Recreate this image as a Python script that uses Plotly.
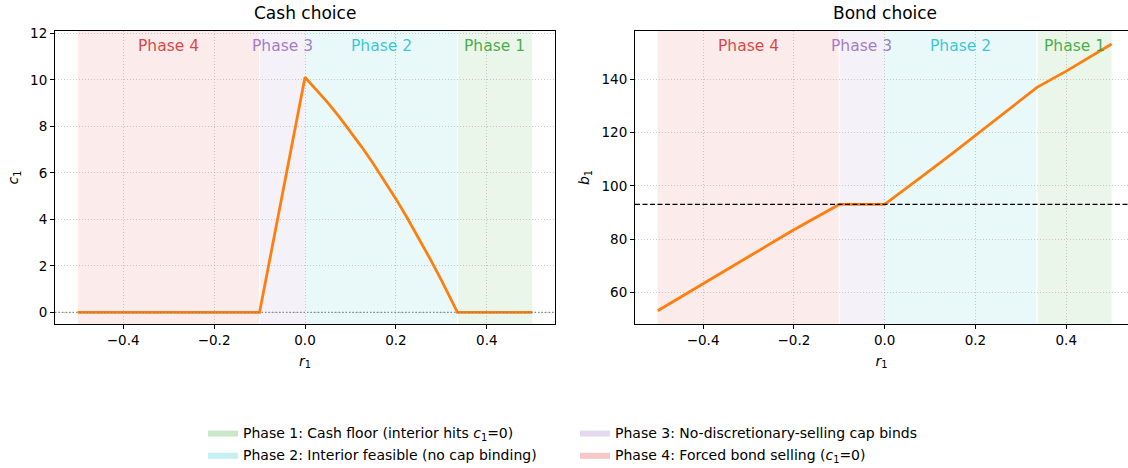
import plotly.graph_objects as go
from plotly.subplots import make_subplots

# ---------------- data ----------------
phase_names = ["Phase 1", "Phase 2", "Phase 3", "Phase 4"]
phase_legend = [
    "Phase 1: Cash floor (interior hits <i>c</i><sub>1</sub>=0)",
    "Phase 2: Interior feasible (no cap binding)",
    "Phase 3: No-discretionary-selling cap binds",
    "Phase 4: Forced bond selling (<i>c</i><sub>1</sub>=0)",
]
phase_rgb = ["44,160,44", "23,190,207", "148,103,189", "214,39,40"]
phase_lo = [0.3355, 0.0, -0.1, -0.5]
phase_hi = [0.5, 0.3355, 0.0, -0.1]

r_cash = [-0.5, -0.3, -0.1, 0.0, 0.025, 0.05, 0.075, 0.1, 0.125, 0.15, 0.175,
          0.2, 0.225, 0.25, 0.275, 0.3, 0.3355, 0.4, 0.5]
c_vals = [0.0, 0.0, 0.0, 10.11, 9.58, 9.02, 8.42, 7.78, 7.11, 6.40, 5.66,
          4.88, 4.06, 3.20, 2.31, 1.39, 0.0, 0.0, 0.0]

r_bond = [-0.5, -0.4, -0.3, -0.2, -0.1, 0.0, 0.05, 0.1, 0.15, 0.2, 0.25,
          0.3, 0.3355, 0.4, 0.5]
b_vals = [53.0, 63.0, 73.3, 83.5, 93.0, 93.0, 99.3, 105.8, 112.3, 119.0, 125.7,
          132.4, 137.1, 143.2, 153.4]
bond_cap = 93.0

x_ticks = [-0.4, -0.2, 0.0, 0.2, 0.4]
x_ticklabels = ["\u22120.4", "\u22120.2", "0.0", "0.2", "0.4"]
c_ticks = [0, 2, 4, 6, 8, 10, 12]
b_ticks = [60, 80, 100, 120, 140]

# ---------------- figure ----------------
W, H = 1128, 468
ML, MR, MT, MB = 55, 0, 31, 144
PW = W - ML - MR
PH = H - MT - MB
FONT = "DejaVu Sans"

fig = make_subplots(rows=1, cols=2, horizontal_spacing=0.0)
fig.update_xaxes(domain=[0, 500 / PW], row=1, col=1)
fig.update_xaxes(domain=[580 / PW, 1.0], row=1, col=2)

fig.add_trace(go.Scatter(x=r_cash, y=c_vals, mode="lines",
                         line=dict(color="#ff7f0e", width=2.8), showlegend=False), row=1, col=1)
fig.add_trace(go.Scatter(x=r_bond, y=b_vals, mode="lines",
                         line=dict(color="#ff7f0e", width=2.8), showlegend=False), row=1, col=2)

for col in (1, 2):
    xr = "x" if col == 1 else "x2"
    yd = "y domain" if col == 1 else "y2 domain"
    for name, rgb, lo, hi in zip(phase_names, phase_rgb, phase_lo, phase_hi):
        fig.add_shape(type="rect", x0=lo, x1=hi, y0=0, y1=1, xref=xr, yref=yd,
                      fillcolor=f"rgba({rgb},0.095)", line=dict(width=0), layer="below")
        fig.add_annotation(x=(lo + hi) / 2, y=0.985, xref=xr, yref=yd,
                           text=name, showarrow=False, yanchor="top",
                           font=dict(family=FONT, size=15.5, color=f"rgba({rgb},0.85)"))
    # thin white separators at the phase edges
    for edge in (-0.1, 0.3355):
        fig.add_shape(type="line", x0=edge, x1=edge, y0=0, y1=1, xref=xr, yref=yd,
                      line=dict(color="white", width=1.2), layer="below")

# reference lines
fig.add_shape(type="line", x0=0, x1=1, y0=0, y1=0, xref="x domain", yref="y",
              line=dict(color="rgba(128,128,128,0.9)", width=1.2, dash="1.5px,2px"), layer="above")
fig.add_shape(type="line", x0=0, x1=1, y0=bond_cap, y1=bond_cap, xref="x2 domain", yref="y2",
              line=dict(color="black", width=1.2, dash="5px,2.5px"), layer="above")

# legend entries (two columns)
for i, (lab, rgb) in enumerate(zip(phase_legend, phase_rgb)):
    fig.add_trace(go.Scatter(x=[None], y=[None], mode="lines", fill="toself",
                             fillcolor=f"rgba({rgb},0.25)", line=dict(width=0, color=f"rgba({rgb},0.25)"),
                             name=lab, showlegend=True, legendgroup=f"g{i}",
                             legend="legend" if i < 2 else "legend2"), row=1, col=1)

axis_common = dict(showline=True, linecolor="black", linewidth=1, ticks="outside",
                   ticklen=4, tickwidth=1, tickcolor="black", zeroline=False,
                   showgrid=True, gridcolor="rgba(160,160,160,0.55)", griddash="1px,2px", gridwidth=1,
                   tickfont=dict(family=FONT, size=13.5, color="black"))

fig.update_xaxes(**axis_common, tickvals=x_ticks, ticktext=x_ticklabels,
                 title=dict(text="<i>r</i><sub>1</sub>", font=dict(family=FONT, size=14, color="black"), standoff=8))
fig.update_xaxes(range=[-0.55, 0.55], mirror=True, row=1, col=1)
fig.update_xaxes(range=[-0.55, 0.536], mirror=True, row=1, col=2)
fig.update_yaxes(**axis_common)
fig.update_yaxes(range=[-0.5, 12.1], tickvals=c_ticks, mirror=True,
                 title=dict(text="<i>c</i><sub>1</sub>", font=dict(family=FONT, size=14, color="black"), standoff=8),
                 row=1, col=1)
fig.update_yaxes(range=[48.0, 158.3], tickvals=b_ticks, mirror=False,
                 title=dict(text="<i>b</i><sub>1</sub>", font=dict(family=FONT, size=14, color="black"), standoff=8),
                 row=1, col=2)

# subplot titles
for xr, t in (("x", "Cash choice"), ("x2", "Bond choice")):
    fig.add_annotation(x=0.0, xref=xr, y=1.0, yref="paper", yshift=6, yanchor="bottom",
                       text=t, showarrow=False, font=dict(family=FONT, size=17, color="black"))

leg_y = -(417 - (MT + PH)) / PH
leg_common = dict(orientation="v", yanchor="top", xanchor="left", bgcolor="rgba(0,0,0,0)",
                  font=dict(family=FONT, size=14, color="black"), itemwidth=30, tracegroupgap=1,
                  y=leg_y)
fig.update_layout(
    width=W, height=H, margin=dict(l=ML, r=MR, t=MT, b=MB, autoexpand=False),
    paper_bgcolor="white", plot_bgcolor="white",
    legend=dict(x=(203 - ML) / PW, **leg_common),
    legend2=dict(x=(575 - ML) / PW, **leg_common),
    font=dict(family=FONT),
)

fig.write_html("out.html", config={"displayModeBar": False},
               post_script="document.body.style.margin='0px';document.body.style.padding='0px';")
